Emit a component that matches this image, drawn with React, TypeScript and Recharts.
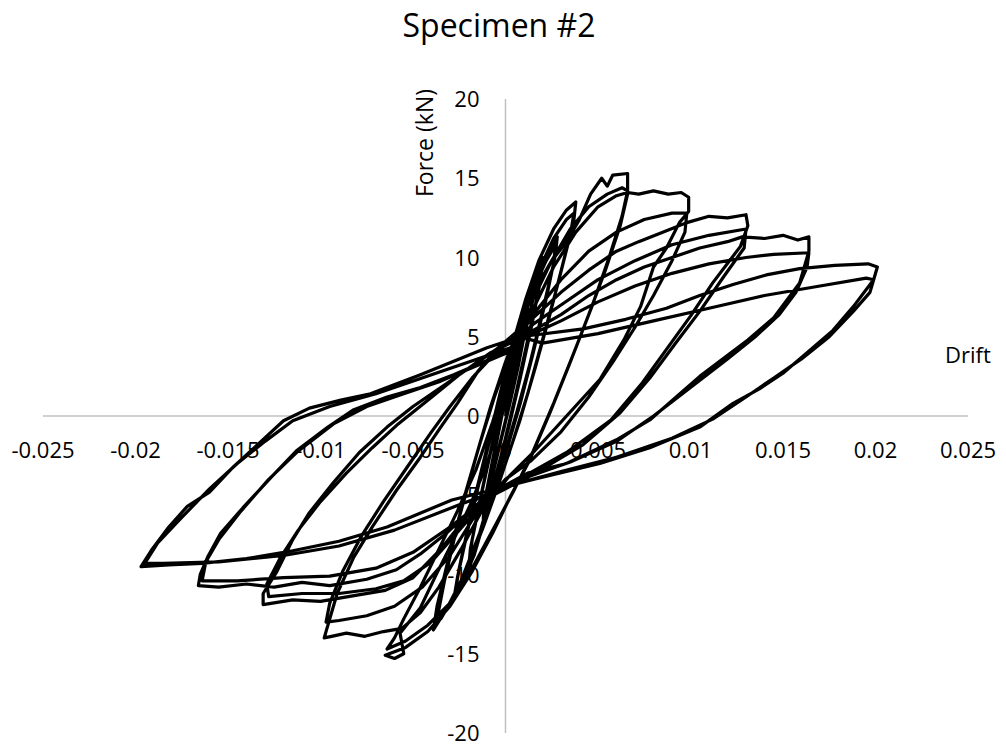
import React from 'react';
import { LineChart, Line, XAxis, YAxis, ReferenceLine, ReferenceDot } from 'recharts';

const FONT = '"Open Sans", "Noto Sans", sans-serif';

// tick values and labels
const xTicks = [-0.025, -0.02, -0.015, -0.01, -0.005, 0, 0.005, 0.01, 0.015, 0.02, 0.025];
const xTickLabels = ['-0.025', '-0.02', '-0.015', '-0.01', '-0.005', '0', '0.005', '0.01', '0.015', '0.02', '0.025'];
const yTicks = [20, 15, 10, 5, 0, -5, -10, -15, -20];
const yTickLabels = ['20', '15', '10', '5', '0', '-5', '-10', '-15', '-20'];

// [drift, force (kN)], cycle by cycle
const cycle1: [number, number][] = [
  [0, 0], [0.0004, 2.2], [0.0008, 4.6], [0.0012, 6.8], [0.0011, 5.6], [0.0007, 3.2], [0.0002, 0.6],
  [-0.0003, -1.8], [-0.0008, -4.2], [-0.0012, -6.4], [-0.0011, -5.2], [-0.0007, -2.8], [-0.0002, 0.2],
  [0.0003, 2.6], [0.0008, 5.0], [0.0012, 7.0], [0.0011, 5.8], [0.0006, 3.0], [0.0001, 0.2],
  [-0.0004, -2.2], [-0.0009, -4.8], [-0.0012, -6.5], [-0.001, -4.8], [-0.0005, -1.8], [0.0, 1.2],
];
const cycle2: [number, number][] = [
  [0.0006, 4.2], [0.0012, 7.0], [0.0017, 9.0], [0.002, 10.0], [0.0019, 8.6], [0.0014, 5.6], [0.0008, 2.4],
  [0.0002, -0.6], [-0.0004, -3.2], [-0.001, -5.8], [-0.0016, -8.2], [-0.002, -9.8], [-0.0019, -8.4],
  [-0.0014, -5.4], [-0.0008, -2.2], [-0.0002, 0.8], [0.0004, 3.6], [0.001, 6.4], [0.0016, 8.8],
  [0.002, 9.8], [0.0018, 8.0], [0.0012, 4.8], [0.0006, 1.6], [0.0, -1.4], [-0.0006, -4.2],
  [-0.0012, -6.8], [-0.0017, -8.8], [-0.002, -9.6], [-0.0018, -7.8], [-0.0012, -4.4], [-0.0006, -1.2], [0.0, 1.8],
];
const cycle3: [number, number][] = [
  [0.0006, 4.6], [0.0012, 7.0], [0.0018, 9.0], [0.0024, 10.6], [0.0028, 11.3], [0.0027, 10.2], [0.0022, 7.4],
  [0.0015, 4.0], [0.0008, 0.8], [0.0001, -2.0], [-0.0007, -4.8], [-0.0014, -7.4], [-0.0021, -9.8],
  [-0.0028, -11.6], [-0.0026, -10.2], [-0.002, -7.0], [-0.0013, -3.6], [-0.0006, -0.4], [0.0001, 2.8],
  [0.0008, 5.6], [0.0015, 8.0], [0.0022, 9.8], [0.0027, 10.8], [0.0026, 9.6], [0.002, 6.6], [0.0013, 3.2],
  [0.0006, 0.2], [-0.0001, -2.6], [-0.0008, -5.4], [-0.0016, -8.2], [-0.0023, -10.2], [-0.0027, -11.0],
  [-0.0025, -9.6], [-0.0018, -5.8], [-0.001, -2.0], [-0.0003, 1.4],
];
const cycle4: [number, number][] = [
  [0.0004, 4.6], [0.0011, 7.4], [0.0018, 9.8], [0.0026, 11.8], [0.0033, 13.0], [0.0038, 13.5], [0.0037, 12.4],
  [0.0031, 9.6], [0.0024, 6.4], [0.0016, 3.0], [0.0008, -0.2], [0.0, -3.0], [-0.0008, -5.6], [-0.0016, -8.0],
  [-0.0024, -10.4], [-0.0032, -12.2], [-0.0039, -13.5], [-0.0037, -12.0], [-0.003, -8.6], [-0.0022, -5.0],
  [-0.0014, -1.8], [-0.0006, 1.2], [0.0002, 3.8], [0.001, 6.6], [0.0018, 9.2], [0.0026, 11.2], [0.0033, 12.4],
  [0.0037, 12.8], [0.0035, 11.4], [0.0028, 8.2], [0.002, 4.8], [0.0012, 1.4], [0.0004, -1.6], [-0.0004, -4.4],
  [-0.0012, -7.0], [-0.002, -9.4], [-0.0028, -11.4], [-0.0035, -12.8], [-0.0037, -12.8], [-0.0033, -10.4],
  [-0.0025, -6.4], [-0.0016, -2.6], [-0.0008, 0.6],
];
const cycle5: [number, number][] = [
  [0.0, 3.4], [0.0008, 5.8], [0.0016, 8.0], [0.0025, 9.8], [0.0033, 11.0], [0.004, 12.4], [0.0046, 14.0],
  [0.0052, 15.0], [0.0055, 14.5], [0.0058, 15.2], [0.0066, 15.3], [0.0066, 14.0], [0.0062, 12.0],
  [0.0054, 9.2], [0.0045, 6.4], [0.0035, 3.4], [0.0024, 0.2], [0.0013, -2.8], [0.0003, -5.0],
  [-0.0007, -7.4], [-0.0018, -9.8], [-0.003, -12.0], [-0.0042, -13.6], [-0.0054, -14.6], [-0.0065, -15.1],
  [-0.006, -15.3], [-0.0055, -15.0], [-0.0057, -13.7], [-0.0046, -12.1], [-0.0037, -9.9], [-0.0028, -7.8],
  [-0.0019, -5.6], [-0.001, -3.0], [-0.0003, -0.4], [0.0004, 2.4], [0.001, 5.0],
];
const cycle6: [number, number][] = [
  [0.0015, 7.4], [0.0025, 9.8], [0.0035, 11.8], [0.0045, 13.2], [0.0055, 14.0], [0.0063, 14.4], [0.0066, 14.2],
  [0.0063, 12.6], [0.0056, 10.0], [0.0047, 7.0], [0.0037, 4.0], [0.0026, 0.8], [0.0015, -2.2], [0.0005, -4.6],
  [-0.0006, -7.0], [-0.0018, -9.6], [-0.003, -11.8], [-0.0042, -13.2], [-0.0054, -14.2], [-0.0064, -14.7],
  [-0.006, -14.0], [-0.0055, -12.8], [-0.0046, -10.8], [-0.0036, -8.4], [-0.0026, -6.0], [-0.0016, -3.4],
  [-0.0007, -0.4], [0.0001, 2.6], [0.0008, 5.0],
];
const cycle7: [number, number][] = [
  [0.0016, 7.0], [0.0026, 9.4], [0.0038, 11.6], [0.005, 13.2], [0.006, 13.9], [0.0066, 14.1], [0.0072, 14.0],
  [0.008, 14.2], [0.0088, 14.0], [0.0095, 14.1], [0.0099, 13.8], [0.0099, 12.9], [0.0094, 12.2],
  [0.0087, 10.6], [0.008, 9.4], [0.0073, 6.9], [0.0064, 4.8], [0.0051, 2.3], [0.0033, 0.0], [0.0015, -2.3],
  [0.0002, -3.8], [-0.0012, -5.8], [-0.0024, -8.4], [-0.0036, -10.8], [-0.0046, -12.4], [-0.0056, -13.4],
  [-0.0066, -13.6], [-0.0076, -13.9], [-0.0086, -13.7], [-0.0094, -13.9], [-0.0098, -14.0],
  [-0.0091, -11.2], [-0.0082, -8.9], [-0.0072, -7.0], [-0.0059, -4.7], [-0.0046, -2.6], [-0.0035, -0.7],
  [-0.0026, 0.8], [-0.0015, 2.8], [-0.0005, 4.2], [0.0005, 5.2],
];
const cycle8: [number, number][] = [
  [0.0015, 6.4], [0.003, 8.6], [0.0045, 10.4], [0.006, 11.6], [0.0075, 12.4], [0.009, 12.8], [0.0098, 12.8],
  [0.0097, 11.6], [0.009, 9.8], [0.008, 7.6], [0.007, 5.6], [0.0058, 3.4], [0.0045, 1.2], [0.003, -1.0],
  [0.0014, -2.8], [0.0, -4.0], [-0.0015, -6.0], [-0.003, -8.8], [-0.0045, -10.8], [-0.006, -12.0],
  [-0.0075, -12.6], [-0.009, -12.9], [-0.0097, -13.0], [-0.0095, -11.8], [-0.0088, -9.8], [-0.0078, -7.6],
  [-0.0066, -5.4], [-0.0053, -3.2], [-0.004, -1.0], [-0.003, 0.6], [-0.0018, 2.4], [-0.0006, 3.9], [0.0005, 5.0],
];
const cycle9: [number, number][] = [
  [0.0015, 6.2], [0.003, 7.8], [0.0045, 9.2], [0.006, 10.4], [0.0072, 11.0], [0.0085, 11.6], [0.0098, 12.2],
  [0.011, 12.6], [0.012, 12.5], [0.013, 12.7], [0.0131, 12.0], [0.0127, 10.7], [0.0112, 8.4], [0.01, 6.3],
  [0.0087, 4.2], [0.0074, 2.1], [0.0057, -0.25], [0.0033, -2.3], [0.0013, -3.6], [-0.0005, -4.8],
  [-0.002, -6.2], [-0.0035, -8.4], [-0.005, -10.2], [-0.0065, -11.0], [-0.0085, -11.4], [-0.01, -11.7],
  [-0.0115, -11.6], [-0.0131, -11.9], [-0.0131, -11.2], [-0.0124, -9.9], [-0.0115, -7.8], [-0.0106, -6.1],
  [-0.0093, -4.2], [-0.0079, -2.3], [-0.0064, -0.7], [-0.005, 0.6], [-0.0035, 1.8], [-0.002, 3.0],
  [-0.0005, 4.2], [0.0008, 5.0],
];
const cycle10: [number, number][] = [
  [0.0015, 5.8], [0.003, 7.0], [0.005, 8.6], [0.007, 9.8], [0.009, 10.8], [0.011, 11.4], [0.013, 11.8],
  [0.0129, 10.6], [0.0118, 8.8], [0.0105, 6.6], [0.0092, 4.6], [0.0078, 2.4], [0.0062, 0.2], [0.0042, -1.8],
  [0.0022, -3.2], [0.0008, -3.9], [-0.001, -5.2], [-0.0025, -7.2], [-0.004, -9.2], [-0.0055, -10.4],
  [-0.007, -10.9], [-0.009, -11.2], [-0.011, -11.2], [-0.0128, -11.4], [-0.0129, -10.6], [-0.0122, -9.0],
  [-0.0112, -7.2], [-0.01, -5.4], [-0.0086, -3.6], [-0.0072, -2.0], [-0.0058, -0.5], [-0.0042, 1.0],
  [-0.0025, 2.6], [-0.0008, 4.0], [0.0006, 4.8],
];
const cycle11: [number, number][] = [
  [0.0015, 5.4], [0.003, 6.4], [0.0045, 7.6], [0.006, 8.6], [0.0075, 9.4], [0.009, 10.0], [0.0105, 10.6],
  [0.012, 11.0], [0.0128, 11.3], [0.014, 11.2], [0.015, 11.4], [0.0158, 11.1], [0.0164, 11.3], [0.0164, 10.4],
  [0.0159, 8.4], [0.0145, 6.2], [0.0131, 4.8], [0.0105, 2.5], [0.0078, -0.25], [0.006, -1.5], [0.0033, -3.0],
  [0.0012, -3.6], [-0.001, -5.0], [-0.0032, -7.4], [-0.0046, -8.7], [-0.0059, -9.7], [-0.0075, -10.3],
  [-0.0095, -10.7], [-0.011, -10.5], [-0.0125, -10.8], [-0.014, -10.6], [-0.0155, -10.8], [-0.0166, -10.7],
  [-0.0165, -10.0], [-0.0161, -8.9], [-0.0154, -7.4], [-0.0142, -5.8], [-0.0127, -3.9], [-0.0113, -2.2],
  [-0.0096, -0.7], [-0.0082, 0.4], [-0.0064, 1.2], [-0.0046, 1.8], [-0.0028, 2.6], [-0.001, 3.5], [0.0004, 4.4],
];
const cycle12: [number, number][] = [
  [0.0015, 5.2], [0.003, 6.0], [0.005, 7.2], [0.007, 8.2], [0.009, 9.0], [0.011, 9.6], [0.013, 10.0],
  [0.0145, 10.2], [0.0164, 10.3], [0.0163, 9.4], [0.0157, 7.8], [0.0148, 6.4], [0.0135, 5.0], [0.012, 3.6],
  [0.01, 1.8], [0.008, 0.0], [0.006, -1.6], [0.0035, -2.9], [0.0013, -3.8], [-0.001, -5.2], [-0.003, -7.0],
  [-0.005, -8.6], [-0.007, -9.6], [-0.0095, -10.1], [-0.012, -10.2], [-0.0145, -10.4], [-0.0164, -10.4],
  [-0.0162, -9.2], [-0.0155, -7.8], [-0.0143, -6.0], [-0.0128, -4.0], [-0.0112, -2.2], [-0.0093, -0.5],
  [-0.0075, 0.6], [-0.0055, 1.4], [-0.0035, 2.2], [-0.0015, 3.2], [0.0005, 4.2],
];
const cycle13: [number, number][] = [
  [0.0008, 5.0], [0.0042, 5.5], [0.0065, 6.1], [0.0087, 6.8], [0.0105, 7.6], [0.0123, 8.3], [0.0141, 8.9],
  [0.0159, 9.3], [0.0178, 9.5], [0.0196, 9.6], [0.0201, 9.4], [0.0199, 8.6], [0.0188, 6.9], [0.0177, 5.4],
  [0.0163, 4.0], [0.015, 2.7], [0.0137, 1.7], [0.0123, 0.8], [0.0105, -0.7], [0.0078, -2.0], [0.0051, -3.0],
  [0.0015, -4.0], [-0.0029, -5.3], [-0.0064, -7.0], [-0.009, -7.9], [-0.0115, -8.5], [-0.014, -9.0],
  [-0.0164, -9.3], [-0.0182, -9.4], [-0.0197, -9.5], [-0.0191, -8.4], [-0.0182, -7.0], [-0.0172, -5.7],
  [-0.016, -4.8], [-0.0147, -3.2], [-0.0133, -1.7], [-0.012, -0.3], [-0.0106, 0.5], [-0.0089, 1.0],
  [-0.0073, 1.4], [-0.0046, 2.6], [-0.001, 4.3], [0.0008, 5.0],
];
const cycle14: [number, number][] = [
  [0.002, 4.6], [0.005, 5.2], [0.008, 6.0], [0.011, 6.8], [0.014, 7.6], [0.017, 8.2], [0.0195, 8.7],
  [0.0199, 8.6], [0.0197, 7.8], [0.0188, 6.6], [0.0175, 5.0], [0.016, 3.6], [0.0145, 2.4], [0.013, 1.2],
  [0.0112, -0.2], [0.009, -1.4], [0.006, -2.6], [0.003, -3.5], [0.0005, -4.3], [-0.0025, -5.6],
  [-0.006, -7.2], [-0.009, -8.2], [-0.012, -8.8], [-0.0155, -9.2], [-0.0185, -9.3], [-0.0195, -9.3],
  [-0.0188, -8.0], [-0.0175, -6.4], [-0.016, -4.6], [-0.0145, -3.0], [-0.013, -1.6], [-0.0115, -0.3],
  [-0.0095, 0.6], [-0.007, 1.4], [-0.004, 2.6], [-0.001, 3.8], [0.0005, 4.4],
];

const cycles = [cycle1, cycle2, cycle3, cycle4, cycle5, cycle6, cycle7, cycle8, cycle9, cycle10, cycle11, cycle12, cycle13, cycle14];
const data = cycles.flat().map(([drift, force]) => ({ drift, force }));

const CHART_W = 990;
const CHART_H = 737;
const MARGIN = { top: 91, right: 30, bottom: 12, left: 35 };

const xTickShape = (label: string) => (p: any) => (
  <text x={p.cx} y={p.cy + 42} textAnchor="middle" fontFamily={FONT} fontSize={22} fill="#000">
    {label}
  </text>
);
const yTickShape = (label: string) => (p: any) => (
  <text x={p.cx - 26} y={p.cy + 8} textAnchor="end" fontFamily={FONT} fontSize={22} fill="#000">
    {label}
  </text>
);

export default function App() {
  return (
    <div style={{ position: 'relative', width: CHART_W, height: CHART_H }}>
      <LineChart width={CHART_W} height={CHART_H} data={data} margin={MARGIN} style={{ overflow: 'visible' }}>
        <XAxis type="number" dataKey="drift" domain={[-0.025, 0.025]} ticks={xTicks} hide allowDataOverflow />
        <YAxis type="number" domain={[-20, 20]} ticks={yTicks} hide allowDataOverflow />
        <ReferenceLine x={0} stroke="#c0c0c0" strokeWidth={1.5} zIndex={-100} />
        <ReferenceLine y={0} stroke="#c0c0c0" strokeWidth={1.5} zIndex={-100} />
        {xTicks.map((v, i) => (
          <ReferenceDot key={'x' + i} x={v} y={0} r={0} ifOverflow="visible" zIndex={-100} shape={xTickShape(xTickLabels[i])} />
        ))}
        {yTicks.map((v, i) => (
          <ReferenceDot key={'y' + i} x={0} y={v} r={0} ifOverflow="visible" zIndex={-100} shape={yTickShape(yTickLabels[i])} />
        ))}
        <Line
          type="linear"
          dataKey="force"
          stroke="#000"
          strokeWidth={3.2}
          strokeLinejoin="round"
          dot={false}
          activeDot={false}
          isAnimationActive={false}
        />
      </LineChart>
      <svg width={CHART_W} height={CHART_H} style={{ position: 'absolute', left: 0, top: 0, pointerEvents: 'none', overflow: 'visible' }}>
        <text x={491} y={29} textAnchor="middle" fontFamily={FONT} fontSize={32} fill="#000">Specimen #2</text>
        <text x={425} y={135} textAnchor="middle" fontFamily={FONT} fontSize={23} fill="#000" transform="rotate(-90 425 135)">Force (kN)</text>
        <text x={960} y={355} textAnchor="middle" fontFamily={FONT} fontSize={22} fill="#000">Drift</text>
      </svg>
    </div>
  );
}
